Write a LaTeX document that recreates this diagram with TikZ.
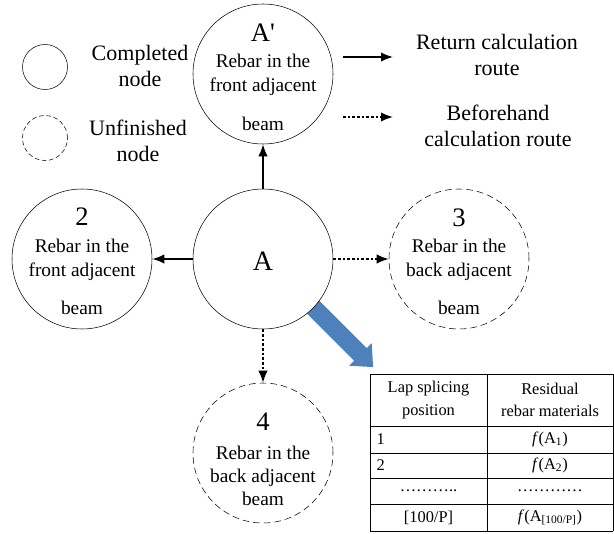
\documentclass[tikz,border=0pt]{standalone}
\usepackage{fontspec}
\setmainfont{Liberation Serif}
\usetikzlibrary{arrows.meta}
\definecolor{arrowblue}{RGB}{79,129,189}

\begin{document}
\begin{tikzpicture}[x=0.75pt,y=0.75pt,
	done/.style={circle,draw,thin,fill=white,inner sep=0pt,minimum size=105pt},
	todo/.style={done,dash pattern=on 5pt off 3pt},
	back/.style={very thick,-{Latex[length=9pt,width=7pt]}},
	ahead/.style={back,dash pattern=on 2pt off 1.5pt},
	big/.style={font=\fontsize{20}{22}\selectfont},
	txt/.style={font=\fontsize{14.5}{18}\selectfont,align=center},
	legend/.style={font=\fontsize{16.5}{20}\selectfont,align=center},
	cell/.style={font=\fontsize{12.3}{17}\selectfont,align=center}]
	\useasboundingbox (0,0) rectangle (614,533);
	% blue arrow to the table
	\begin{scope}[shift={(313,226)},rotate=-45]
		\fill[arrowblue] (0,9) -- (67,9) -- (67,16) -- (85,0) -- (67,-16) -- (67,-9) -- (0,-9) -- cycle;
	\end{scope}
	% circles
	\node[done] (nA) at (263,274) {};
	\node[done] (nAp) at (263,459) {};
	\node[done] (n2) at (82,274) {};
	\node[todo] (n3) at (459,274) {};
	\node[todo] (n4) at (263,80) {};
	\node[big,font=\fontsize{21}{22}\selectfont] (lA) at (263,272) {A};
	\node[big] (lAp) at (263,500) {A\textquotesingle};
	\node[txt] (tAp) at (263,458) {Rebar in the\\front adjacent};
	\node[txt] (bAp) at (263,409) {beam};
	\node[big] (l2) at (82,316) {2};
	\node[txt] (t2) at (82,273) {Rebar in the\\front adjacent};
	\node[txt] (b2) at (82,225) {beam};
	\node[big] (l3) at (459,315) {3};
	\node[txt] (t3) at (459,273) {Rebar in the\\back adjacent};
	\node[txt] (b3) at (459,225) {beam};
	\node[big] (l4) at (263,111) {4};
	\node[txt,font=\fontsize{14.5}{17}\selectfont] (t4) at (263,57) {Rebar in the\\back adjacent\\beam};
	\draw[back] (nA) -- (nAp);
	\draw[back] (nA) -- (n2);
	\draw[ahead] (nA) -- (n3);
	\draw[ahead] (nA) -- (n4);
	% legend
	\node[done,minimum size=33.75pt] (kdone) at (45,466) {};
	\node[todo,minimum size=33.75pt,dash pattern=on 3.5pt off 2pt] (ktodo) at (45,395) {};
	\node[legend] (kdonetxt) at (140,467) {Completed\\node};
	\node[legend] (ktodotxt) at (138,392) {Unfinished\\node};
	\coordinate (rs) at (343,476);
	\coordinate (re) at (393,476);
	\coordinate (fs) at (343,416);
	\coordinate (fe) at (393,416);
	\draw[back] (rs) -- (re);
	\draw[ahead] (fs) -- (fe);
	\node[legend] (rtxt) at (497,478) {Return calculation\\route};
	\node[legend] (ftxt) at (498,407) {Beforehand\\calculation route};
	% table
	\foreach \y in {2,29,55,80,107,159}
		\draw[thin] (370,\y) -- (613,\y);
	\foreach \x in {370,487,613}
		\draw[thin] (\x,2) -- (\x,159);
	\node[cell] (h1) at (428.5,133) {Lap splicing\\position};
	\node[cell] (h2) at (550,133) {Residual\\rebar materials};
	\node[cell,anchor=west] (r1a) at (372,93.5) {1};
	\node[cell] (r1b) at (550,93.5) {\textit{f}(A\textsubscript{1})};
	\node[cell,anchor=west] (r2a) at (372,67.5) {2};
	\node[cell] (r2b) at (550,67.5) {\textit{f}(A\textsubscript{2})};
	\node[cell] (r3a) at (428.5,42) {………..};
	\node[cell] (r3b) at (550,42) {…………};
	\node[cell] (r4a) at (428.5,15.5) {[100/P]};
	\node[cell] (r4b) at (550,15.5) {\textit{f}(A\textsubscript{[100/P]})};
\end{tikzpicture}
\end{document}
